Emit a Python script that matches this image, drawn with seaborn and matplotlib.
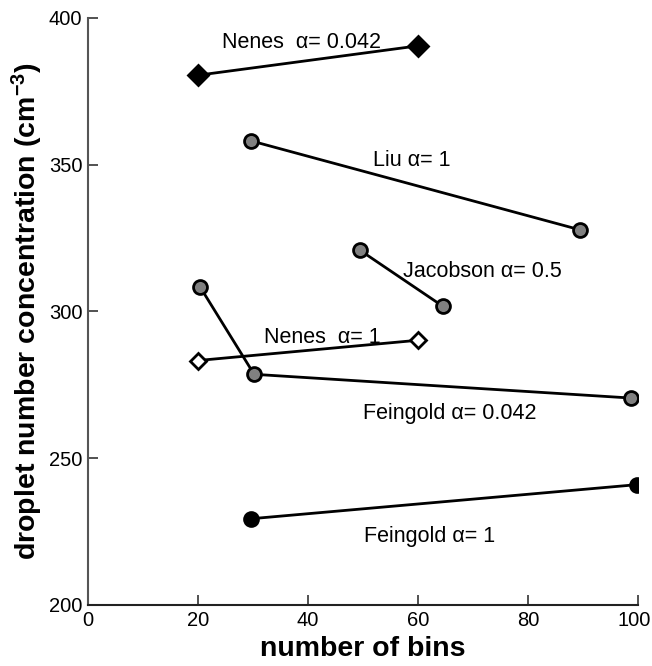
import matplotlib
matplotlib.use("Agg")
import matplotlib.pyplot as plt
import matplotlib.transforms as mtransforms
import seaborn as sns
import pandas as pd

# droplet number concentration vs number of bins, one list pair per scheme
nenes_042_x = [20, 60]
nenes_042_y = [380.5, 390.5]
liu_1_x = [29.7, 89.5]
liu_1_y = [358.1, 327.8]
jacobson_05_x = [49.5, 64.5]
jacobson_05_y = [320.8, 301.8]
feingold_042_x = [20.4, 30.2, 98.8]
feingold_042_y = [308.3, 278.6, 270.5]
nenes_1_x = [20, 60]
nenes_1_y = [283.3, 290.2]
feingold_1_x = [29.7, 99.8]
feingold_1_y = [229.4, 241.0]

x_ticks = [0, 20, 40, 60, 80, 100]
y_ticks = [200, 250, 300, 350, 400]

sns.set_theme(style="ticks")
plt.rcParams["font.family"] = ["Liberation Sans", "DejaVu Sans"]
plt.rcParams["mathtext.fontset"] = "custom"
plt.rcParams["mathtext.bf"] = "Liberation Sans:bold"
plt.rcParams["mathtext.rm"] = "Liberation Sans"

fig = plt.figure(figsize=(6.52, 6.66), dpi=100)
ax = fig.add_axes([0.135, 0.0916, 0.8435, 0.8814])

series = [
    (nenes_042_x, nenes_042_y, "D", "black", 10.5),
    (liu_1_x, liu_1_y, "o", "#808080", 10),
    (jacobson_05_x, jacobson_05_y, "o", "#808080", 10),
    (feingold_042_x, feingold_042_y, "o", "#808080", 10),
    (nenes_1_x, nenes_1_y, "D", "white", 8.5),
    (feingold_1_x, feingold_1_y, "o", "black", 10),
]
for xs, ys, mk, fc, ms in series:
    df = pd.DataFrame({"bins": xs, "conc": ys})
    sns.lineplot(data=df, x="bins", y="conc", ax=ax, sort=False, color="black",
                 linewidth=2, marker=mk, markersize=ms, markerfacecolor=fc,
                 markeredgecolor="black", markeredgewidth=2)

# series labels
labels = [
    (24.4, 391.8, "Nenes  α= 0.042"),
    (51.8, 351.6, "Liu α= 1"),
    (57.3, 313.5, "Jacobson α= 0.5"),
    (32.0, 291.3, "Nenes  α= 1"),
    (50.0, 265.4, "Feingold α= 0.042"),
    (50.2, 223.5, "Feingold α= 1"),
]
for tx, ty, s in labels:
    ax.text(tx, ty, s, fontsize=15.5, va="center", ha="left", color="black")

ax.set_xlim(0, 100)
ax.set_ylim(200, 400)
ax.set_xticks(x_ticks)
ax.set_yticks(y_ticks)
ax.tick_params(direction="in", length=7, width=1.2, labelsize=14.5, pad=4, colors="#333333",
               labelcolor="black")
for side in ["top", "right"]:
    ax.spines[side].set_visible(False)
ax.spines["left"].set_color("#555555")
ax.spines["bottom"].set_color("#222222")
ax.spines["left"].set_linewidth(1.5)
ax.spines["bottom"].set_linewidth(1.5)

# keep the last x tick label inside the figure
last = ax.get_xticklabels()[-1]
last.set_transform(last.get_transform() + mtransforms.ScaledTranslation(-4 / 100, 0, fig.dpi_scale_trans))

ax.set_xlabel("number of bins", fontsize=20.5, fontweight="bold", labelpad=5, color="black")
ax.set_ylabel(r"droplet number concentration (cm$\mathbf{^{-3}}$)", fontsize=20.5,
              fontweight="bold", labelpad=3, color="black")

fig.savefig("out.png", dpi=100)
